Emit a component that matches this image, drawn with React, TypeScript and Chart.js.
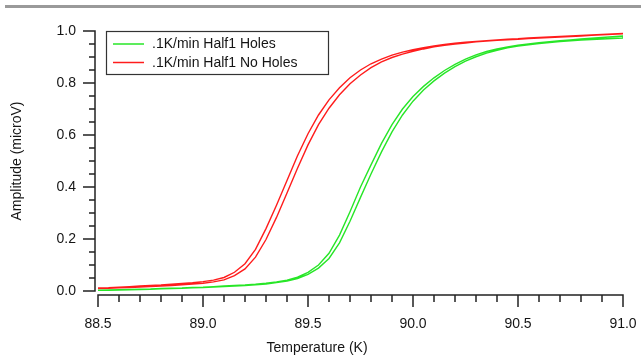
import React, { useEffect, useRef } from "react";
import { Chart, registerables } from "chart.js";

Chart.register(...registerables);

// ---------- data ----------
const temperatures = [
  88.5, 88.55, 88.6, 88.65, 88.7, 88.75, 88.8, 88.85, 88.9, 88.95,
  89.0, 89.05, 89.1, 89.15, 89.2, 89.25, 89.3, 89.35, 89.4, 89.45,
  89.5, 89.55, 89.6, 89.65, 89.7, 89.75, 89.8, 89.85, 89.9, 89.95,
  90.0, 90.05, 90.1, 90.15, 90.2, 90.25, 90.3, 90.35, 90.4, 90.45,
  90.5, 90.55, 90.6, 90.65, 90.7, 90.75, 90.8, 90.85, 90.9, 90.95,
  91.0,
];

// green, "Holes" – two traces
const holesTraceA = [
  0.003, 0.004, 0.005, 0.006, 0.007, 0.008, 0.010, 0.011, 0.012, 0.014,
  0.015, 0.017, 0.019, 0.021, 0.023, 0.026, 0.030, 0.035, 0.042, 0.053,
  0.072, 0.100, 0.145, 0.215, 0.305, 0.400, 0.485, 0.568, 0.640, 0.700,
  0.748, 0.787, 0.820, 0.848, 0.872, 0.892, 0.908, 0.921, 0.931, 0.939,
  0.945, 0.950, 0.955, 0.959, 0.963, 0.966, 0.969, 0.972, 0.975, 0.978,
  0.981,
];
const holesTraceB = [
  0.002, 0.003, 0.004, 0.005, 0.006, 0.007, 0.008, 0.009, 0.010, 0.012,
  0.013, 0.015, 0.017, 0.019, 0.021, 0.024, 0.027, 0.032, 0.038, 0.048,
  0.064, 0.088, 0.125, 0.185, 0.268, 0.360, 0.450, 0.535, 0.612, 0.677,
  0.730, 0.773, 0.808, 0.838, 0.863, 0.884, 0.901, 0.915, 0.926, 0.935,
  0.942, 0.947, 0.952, 0.956, 0.959, 0.962, 0.965, 0.967, 0.969, 0.971,
  0.973,
];

// red, "No Holes" – two traces
const noHolesTraceA = [
  0.012, 0.013, 0.015, 0.017, 0.019, 0.021, 0.023, 0.026, 0.029, 0.032,
  0.036, 0.042, 0.052, 0.072, 0.105, 0.160, 0.240, 0.330, 0.425, 0.520,
  0.605, 0.677, 0.735, 0.782, 0.820, 0.850, 0.874, 0.892, 0.907, 0.919,
  0.928, 0.936, 0.943, 0.948, 0.953, 0.957, 0.960, 0.963, 0.966, 0.968,
  0.970, 0.973, 0.975, 0.977, 0.979, 0.981, 0.983, 0.985, 0.987, 0.989,
  0.991,
];
const noHolesTraceB = [
  0.009, 0.010, 0.012, 0.013, 0.015, 0.017, 0.019, 0.021, 0.024, 0.027,
  0.030, 0.035, 0.043, 0.059, 0.085, 0.130, 0.198, 0.283, 0.377, 0.472,
  0.562, 0.640, 0.703, 0.755, 0.797, 0.831, 0.859, 0.881, 0.898, 0.911,
  0.922, 0.931, 0.939, 0.945, 0.950, 0.954, 0.958, 0.961, 0.964, 0.966,
  0.968, 0.971, 0.973, 0.975, 0.977, 0.979, 0.981, 0.983, 0.985, 0.987,
  0.989,
];

const seriesLabels = [".1K/min Half1 Holes", ".1K/min Half1 No Holes"];
const xTickValues = [88.5, 89.0, 89.5, 90.0, 90.5, 91.0];
const yTickValues = [0.0, 0.2, 0.4, 0.6, 0.8, 1.0];
const xTitle = "Temperature (K)";
const yTitle = "Amplitude (microV)";

// ---------- styling ----------
const FONT = '"Liberation Sans", Arial, Helvetica, sans-serif';
const TEXT = "#151515";
const AXIS = "#222222";
const GREEN = "#27e627";
const RED = "#ff1c1c";

function loop(a: number[], b: number[]) {
  const fwd = temperatures.map((t, i) => ({ x: t, y: a[i] }));
  const back = temperatures.map((t, i) => ({ x: t, y: b[i] })).reverse();
  return fwd.concat(back);
}

const axesPlugin = {
  id: "igorAxes",
  afterDraw(chart: any) {
    const { ctx, chartArea } = chart;
    const x = chart.scales.x;
    const y = chart.scales.y;
    ctx.save();
    ctx.strokeStyle = AXIS;
    ctx.lineWidth = 1.5;
    const yAxisX = chartArea.left - 3;
    const xAxisY = chartArea.bottom + 4;
    const yMin = yTickValues[0];
    const yMax = yTickValues[yTickValues.length - 1];
    const xMin = xTickValues[0];
    const xMax = xTickValues[xTickValues.length - 1];

    ctx.beginPath();
    ctx.moveTo(yAxisX, y.getPixelForValue(yMax) - 0.75);
    ctx.lineTo(yAxisX, y.getPixelForValue(yMin) + 0.75);
    // y ticks
    for (let k = 0; k <= 20; k++) {
      const v = yMin + (k * (yMax - yMin)) / 20;
      const py = y.getPixelForValue(v);
      const len = k % 4 === 0 ? 12 : 6;
      ctx.moveTo(yAxisX - len, py);
      ctx.lineTo(yAxisX, py);
    }
    // x axis
    ctx.moveTo(x.getPixelForValue(xMin) - 0.75, xAxisY);
    ctx.lineTo(x.getPixelForValue(xMax) + 0.75, xAxisY);
    for (let k = 0; k <= 25; k++) {
      const v = xMin + (k * (xMax - xMin)) / 25;
      const px = x.getPixelForValue(v);
      const len = k % 5 === 0 ? 12 : 7;
      ctx.moveTo(px, xAxisY);
      ctx.lineTo(px, xAxisY + len);
    }
    ctx.stroke();

    // axis titles
    ctx.fillStyle = TEXT;
    ctx.font = `14px ${FONT}`;
    ctx.textAlign = "center";
    ctx.textBaseline = "middle";
    ctx.fillText(xTitle, 317, 348);
    ctx.translate(17, (chartArea.top + chartArea.bottom) / 2);
    ctx.rotate(-Math.PI / 2);
    ctx.fillText(yTitle, 0, 0);
    ctx.restore();

    // legend box
    ctx.save();
    ctx.strokeStyle = "#333";
    ctx.lineWidth = 1.2;
    ctx.fillStyle = "#fff";
    ctx.fillRect(106.5, 31.5, 222, 43);
    ctx.strokeRect(106.5, 31.5, 222, 43);
    ctx.font = `14px ${FONT}`;
    ctx.textAlign = "left";
    ctx.textBaseline = "middle";
    chart.data.datasets.forEach((ds: any, i: number) => {
      const ly = 44 + i * 18.5;
      ctx.strokeStyle = ds.borderColor;
      ctx.lineWidth = 1.5;
      ctx.beginPath();
      ctx.moveTo(113, ly);
      ctx.lineTo(144, ly);
      ctx.stroke();
      ctx.fillStyle = TEXT;
      ctx.fillText(ds.label, 152, ly + 0.5);
    });
    ctx.restore();
  },
};

export default function App() {
  const ref = useRef<HTMLCanvasElement | null>(null);

  useEffect(() => {
    if (!ref.current) return;
    const chart = new Chart(ref.current, {
      type: "scatter",
      data: {
        datasets: [
          {
            label: seriesLabels[0],
            data: loop(holesTraceA, holesTraceB),
            showLine: true,
            borderColor: GREEN,
            borderWidth: 1.4,
            pointRadius: 0,
            tension: 0,
          },
          {
            label: seriesLabels[1],
            data: loop(noHolesTraceA, noHolesTraceB),
            showLine: true,
            borderColor: RED,
            borderWidth: 1.4,
            pointRadius: 0,
            tension: 0,
          },
        ],
      },
      options: {
        responsive: false,
        animation: false,
        events: [],
        layout: { padding: { top: 31, right: 18, bottom: 0, left: 0 } },
        plugins: {
          legend: { display: false },
          tooltip: { enabled: false },
        },
        scales: {
          x: {
            type: "linear",
            min: xTickValues[0],
            max: xTickValues[xTickValues.length - 1],
            grid: { display: false, drawTicks: false },
            border: { display: false },
            afterBuildTicks: (s: any) => {
              s.ticks = xTickValues.map((v) => ({ value: v }));
            },
            afterFit: (s: any) => {
              s.height = 69;
              s.paddingLeft = 0;
              s.paddingRight = 0;
            },
            ticks: {
              padding: 25,
              color: TEXT,
              font: { family: FONT, size: 14 },
              maxRotation: 0,
              autoSkip: false,
              callback: (v: any) => Number(v).toFixed(1),
            },
          },
          y: {
            type: "linear",
            min: yTickValues[0],
            max: yTickValues[yTickValues.length - 1],
            grid: { display: false, drawTicks: false },
            border: { display: false },
            afterBuildTicks: (s: any) => {
              s.ticks = yTickValues.map((v) => ({ value: v }));
            },
            afterFit: (s: any) => {
              s.width = 98;
              s.paddingTop = 0;
              s.paddingBottom = 0;
            },
            ticks: {
              padding: 22,
              color: TEXT,
              font: { family: FONT, size: 14 },
              autoSkip: false,
              callback: (v: any) => Number(v).toFixed(1),
            },
          },
        },
      },
      plugins: [axesPlugin],
    });
    return () => chart.destroy();
  }, []);

  return (
    <div style={{ position: "absolute", left: 0, top: 0, width: 641, height: 360, background: "#fff" }}>
      <div
        style={{
          position: "absolute",
          left: 5,
          top: 5,
          width: 636,
          height: 3,
          background: "#9a9a9a",
        }}
      />
      <canvas ref={ref} width={641} height={360} style={{ width: 641, height: 360, display: "block" }} />
    </div>
  );
}
